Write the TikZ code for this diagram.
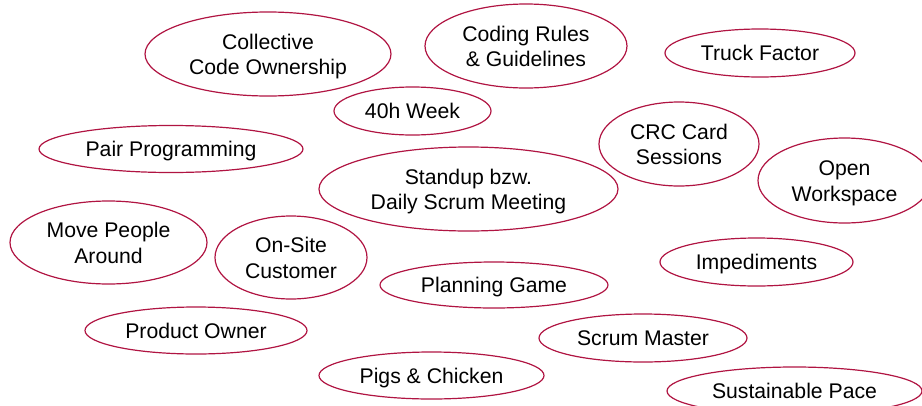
\documentclass[tikz,border=0pt]{standalone}
\usepackage{fontspec}
\setmainfont{Liberation Sans}
\usepackage{xcolor}
\usetikzlibrary{shapes.geometric}
\definecolor{practicered}{RGB}{176,20,66}

\begin{document}
\begin{tikzpicture}[x=1pt,y=-1pt,
font=\fontsize{21.2}{25.7}\selectfont]

\tikzstyle{practice}=[ellipse, draw=practicered, line width=1.2pt,
inner sep=0pt, align=center, text=black, text height=19.7pt, text depth=3.9pt]
\tikzstyle{practice2}=[practice, text height=45.4pt]

\useasboundingbox (0,0) rectangle (922,405);

%top row
\node[practice2, minimum width=246, minimum height=84] (ownership) at (268,54) {Collective\\Code Ownership};
\node[practice2, minimum width=202, minimum height=84] (rules) at (526,46) {Coding Rules\\\& Guidelines};
\node[practice, minimum width=190, minimum height=48] (truck) at (760,53) {Truck Factor};
\node[practice, minimum width=157, minimum height=48] (week) at (412.5,111) {40h Week};

%middle
\node[practice, minimum width=264, minimum height=47] (pair) at (171,149) {Pair Programming};
\node[practice2, minimum width=160, minimum height=84] (crc) at (679,144) {CRC Card\\Sessions};
\node[practice2, minimum width=299, minimum height=84] (standup) at (468.5,189) {Standup bzw.\\Daily Scrum Meeting};
\node[practice2, minimum width=173, minimum height=85] (workspace) at (844.5,180.5) {Open\\Workspace};
\node[practice2, minimum width=197, minimum height=83] (move) at (108.5,242.5) {Move People\\Around};
\node[practice2, minimum width=152, minimum height=83] (onsite) at (291,257.5) {On-Site\\Customer};
\node[practice, minimum width=193, minimum height=48] (impediments) at (756.5,262) {Impediments};
\node[practice, minimum width=228, minimum height=46] (planning) at (494,285) {Planning Game};

%bottom row
\node[practice, minimum width=222, minimum height=47] (owner) at (196,330.5) {Product Owner};
\node[practice, minimum width=208, minimum height=48] (master) at (643,338) {Scrum Master};
\node[practice, minimum width=225, minimum height=47] (pigs) at (431.5,375.5) {Pigs \& Chicken};
\node[practice, minimum width=255, minimum height=48] (pace) at (794.5,391) {Sustainable Pace};

\end{tikzpicture}
\end{document}
